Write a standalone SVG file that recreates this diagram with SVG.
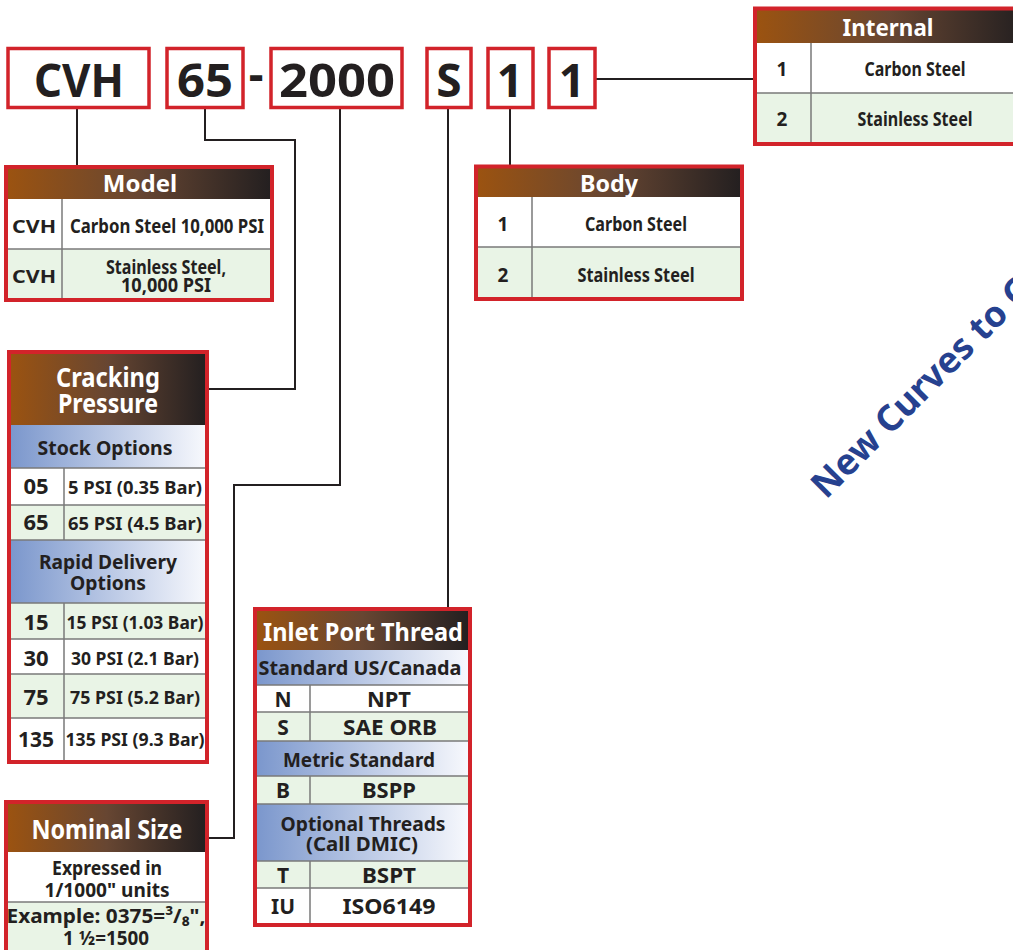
<svg xmlns="http://www.w3.org/2000/svg" width="1013" height="950" viewBox="0 0 1013 950">
<defs>
<linearGradient id="hdr" x1="0" y1="0" x2="1" y2="0">
<stop offset="0" stop-color="#9c5310"/>
<stop offset="0.5" stop-color="#674632"/>
<stop offset="1" stop-color="#231f20"/>
</linearGradient>
<linearGradient id="band" x1="0" y1="0" x2="1" y2="0">
<stop offset="0" stop-color="#7a96cc"/>
<stop offset="1" stop-color="#f8f9fd"/>
</linearGradient>
<style>
.frame{fill:none;stroke:#d2232a;stroke-width:4}
.code{fill:#fff;stroke:#d2232a;stroke-width:3.5}
.grid{stroke:#7a7a7a;stroke-width:1.5;fill:none}
.wh{fill:#fff}
.gr{fill:#e9f4e6}
.t{font-family:"Noto Sans","Open Sans","Liberation Sans",sans-serif;font-weight:700;fill:#231f20;text-anchor:middle}
.h{font-family:"Noto Sans","Open Sans","Liberation Sans",sans-serif;font-weight:700;fill:#fff;text-anchor:middle}
.con{fill:none;stroke:#231f20;stroke-width:2}
</style>
</defs>
<rect width="1013" height="950" fill="#fff"/>

<g id="connectors">
<polyline class="con" points="77,109 77,166"/>
<polyline class="con" points="205,109 205,140 295,140 295,389 209,389"/>
<polyline class="con" points="340,109 340,485 234,485 234,838 209,838"/>
<polyline class="con" points="448,109 448,608"/>
<polyline class="con" points="510,109 510,165"/>
<polyline class="con" points="596,79 754,79"/>
</g>

<g id="code">
<rect class="code" x="8" y="48.5" width="141" height="59"/>
<text class="t" x="79" y="97" font-size="46" textLength="90" lengthAdjust="spacingAndGlyphs">CVH</text>
<rect class="code" x="167" y="48.5" width="76" height="59"/>
<text class="t" x="205" y="97" font-size="46" textLength="56" lengthAdjust="spacingAndGlyphs">65</text>
<text class="t" x="256" y="91" font-size="46">-</text>
<rect class="code" x="271" y="48.5" width="131" height="59"/>
<text class="t" x="337" y="97" font-size="46" textLength="116" lengthAdjust="spacingAndGlyphs">2000</text>
<rect class="code" x="427" y="48.5" width="44" height="59"/>
<text class="t" x="449" y="97" font-size="46">S</text>
<rect class="code" x="488" y="48.5" width="45" height="59"/>
<text class="t" x="510" y="97" font-size="46">1</text>
<rect class="code" x="549" y="48.5" width="46" height="59"/>
<text class="t" x="572" y="97" font-size="46">1</text>
</g>

<g id="model">
<rect x="6" y="167" width="266" height="32" fill="url(#hdr)"/>
<rect class="wh" x="6" y="199" width="266" height="50"/>
<rect class="gr" x="6" y="249" width="266" height="51"/>
<line class="grid" x1="6" y1="249" x2="272" y2="249"/>
<line class="grid" x1="62" y1="199" x2="62" y2="300"/>
<rect class="frame" x="6" y="167" width="266" height="133"/>
<text class="h" x="140" y="192" font-size="24">Model</text>
<text class="t" x="34" y="233" font-size="18" textLength="44" lengthAdjust="spacingAndGlyphs">CVH</text>
<text class="t" x="167" y="233" font-size="19" textLength="194" lengthAdjust="spacingAndGlyphs">Carbon Steel 10,000 PSI</text>
<text class="t" x="34" y="283" font-size="18" textLength="44" lengthAdjust="spacingAndGlyphs">CVH</text>
<text class="t" font-size="19"><tspan x="166" y="274" textLength="120" lengthAdjust="spacingAndGlyphs">Stainless Steel,</tspan><tspan x="166" y="292" textLength="90" lengthAdjust="spacingAndGlyphs">10,000 PSI</tspan></text>
</g>

<g id="cracking">
<rect x="9" y="352" width="198" height="73" fill="url(#hdr)"/>
<rect x="9" y="425" width="198" height="43" fill="url(#band)"/>
<rect class="wh" x="9" y="468" width="198" height="37"/>
<rect class="gr" x="9" y="505" width="198" height="35"/>
<rect x="9" y="540" width="198" height="63" fill="url(#band)"/>
<rect class="gr" x="9" y="603" width="198" height="36"/>
<rect class="wh" x="9" y="639" width="198" height="35"/>
<rect class="gr" x="9" y="674" width="198" height="44"/>
<rect class="wh" x="9" y="718" width="198" height="44"/>
<path class="grid" d="M9,468H207M9,505H207M9,540H207M9,603H207M9,639H207M9,674H207M9,718H207M64,468V540M64,603V762"/>
<rect class="frame" x="9" y="352" width="198" height="410"/>
<text class="h" font-size="26"><tspan x="108" y="387" textLength="104" lengthAdjust="spacingAndGlyphs">Cracking</tspan><tspan x="108" y="413" textLength="100" lengthAdjust="spacingAndGlyphs">Pressure</tspan></text>
<text class="t" x="105" y="455" font-size="20" textLength="135" lengthAdjust="spacingAndGlyphs">Stock Options</text>
<text class="t" x="36" y="494" font-size="22">05</text>
<text class="t" x="135" y="494" font-size="17" textLength="134" lengthAdjust="spacingAndGlyphs">5 PSI (0.35 Bar)</text>
<text class="t" x="36" y="530" font-size="22">65</text>
<text class="t" x="135" y="530" font-size="17" textLength="134" lengthAdjust="spacingAndGlyphs">65 PSI (4.5 Bar)</text>
<text class="t" font-size="20"><tspan x="108" y="569" textLength="138" lengthAdjust="spacingAndGlyphs">Rapid Delivery</tspan><tspan x="108" y="590" textLength="76" lengthAdjust="spacingAndGlyphs">Options</tspan></text>
<text class="t" x="36" y="630" font-size="22">15</text>
<text class="t" x="135" y="629" font-size="17" textLength="137" lengthAdjust="spacingAndGlyphs">15 PSI (1.03 Bar)</text>
<text class="t" x="36" y="666" font-size="22">30</text>
<text class="t" x="135" y="665" font-size="17" textLength="128" lengthAdjust="spacingAndGlyphs">30 PSI (2.1 Bar)</text>
<text class="t" x="36" y="705" font-size="22">75</text>
<text class="t" x="135" y="704" font-size="17" textLength="130" lengthAdjust="spacingAndGlyphs">75 PSI (5.2 Bar)</text>
<text class="t" x="36" y="747" font-size="22" textLength="36" lengthAdjust="spacingAndGlyphs">135</text>
<text class="t" x="135" y="746" font-size="17" textLength="139" lengthAdjust="spacingAndGlyphs">135 PSI (9.3 Bar)</text>
</g>

<g id="nominal">
<rect x="6" y="802" width="201" height="50" fill="url(#hdr)"/>
<rect class="wh" x="6" y="852" width="201" height="50"/>
<rect class="gr" x="6" y="902" width="201" height="60"/>
<line class="grid" x1="6" y1="902" x2="207" y2="902"/>
<rect class="frame" x="6" y="802" width="201" height="160"/>
<text class="h" x="107" y="839" font-size="27" textLength="151" lengthAdjust="spacingAndGlyphs">Nominal Size</text>
<text class="t" font-size="20"><tspan x="107" y="875" textLength="110" lengthAdjust="spacingAndGlyphs">Expressed in</tspan><tspan x="107" y="897" textLength="125" lengthAdjust="spacingAndGlyphs">1/1000" units</tspan></text>
<text class="t" font-size="20"><tspan x="106" y="923" textLength="199" lengthAdjust="spacingAndGlyphs">Example: 0375=³/₈",</tspan><tspan x="106" y="945" textLength="86" lengthAdjust="spacingAndGlyphs">1 ½=1500</tspan></text>
</g>

<g id="inlet">
<rect x="255" y="609" width="215" height="41" fill="url(#hdr)"/>
<rect x="255" y="650" width="215" height="35" fill="url(#band)"/>
<rect class="wh" x="255" y="685" width="215" height="27"/>
<rect class="gr" x="255" y="712" width="215" height="29"/>
<rect x="255" y="741" width="215" height="35" fill="url(#band)"/>
<rect class="gr" x="255" y="776" width="215" height="28"/>
<rect x="255" y="804" width="215" height="57" fill="url(#band)"/>
<rect class="gr" x="255" y="861" width="215" height="27"/>
<rect class="wh" x="255" y="888" width="215" height="37"/>
<path class="grid" d="M255,685H470M255,712H470M255,741H470M255,776H470M255,804H470M255,861H470M255,888H470M310,685V741M310,776V804M310,861V925"/>
<rect class="frame" x="255" y="609" width="215" height="316"/>
<text class="h" x="363" y="641" font-size="25" textLength="200" lengthAdjust="spacingAndGlyphs">Inlet Port Thread</text>
<text class="t" x="360" y="675" font-size="20" textLength="203" lengthAdjust="spacingAndGlyphs">Standard US/Canada</text>
<text class="t" x="283" y="707" font-size="21">N</text>
<text class="t" x="389" y="707" font-size="21" textLength="44" lengthAdjust="spacingAndGlyphs">NPT</text>
<text class="t" x="283" y="735" font-size="21">S</text>
<text class="t" x="390" y="735" font-size="21" textLength="94" lengthAdjust="spacingAndGlyphs">SAE ORB</text>
<text class="t" x="359" y="767" font-size="20" textLength="152" lengthAdjust="spacingAndGlyphs">Metric Standard</text>
<text class="t" x="283" y="798" font-size="21">B</text>
<text class="t" x="389" y="798" font-size="21" textLength="54" lengthAdjust="spacingAndGlyphs">BSPP</text>
<text class="t" font-size="20"><tspan x="363" y="831" textLength="165" lengthAdjust="spacingAndGlyphs">Optional Threads</tspan><tspan x="362" y="851" textLength="112" lengthAdjust="spacingAndGlyphs">(Call DMIC)</tspan></text>
<text class="t" x="283" y="883" font-size="21">T</text>
<text class="t" x="389" y="883" font-size="21" textLength="54" lengthAdjust="spacingAndGlyphs">BSPT</text>
<text class="t" x="283" y="914" font-size="21" textLength="24" lengthAdjust="spacingAndGlyphs">IU</text>
<text class="t" x="389" y="914" font-size="21" textLength="93" lengthAdjust="spacingAndGlyphs">ISO6149</text>
</g>

<g id="internal">
<rect x="755" y="8.5" width="270" height="35" fill="url(#hdr)"/>
<rect class="wh" x="755" y="43" width="270" height="50"/>
<rect class="gr" x="755" y="93" width="270" height="51"/>
<path class="grid" d="M755,93H1025M811,43V144"/>
<rect class="frame" x="755" y="8.5" width="270" height="135.5"/>
<text class="h" x="888" y="36" font-size="24" textLength="91" lengthAdjust="spacingAndGlyphs">Internal</text>
<text class="t" x="782" y="76" font-size="19">1</text>
<text class="t" x="915" y="76" font-size="19" textLength="101" lengthAdjust="spacingAndGlyphs">Carbon Steel</text>
<text class="t" x="782" y="126" font-size="19">2</text>
<text class="t" x="915" y="126" font-size="19" textLength="115" lengthAdjust="spacingAndGlyphs">Stainless Steel</text>
</g>

<g id="body">
<rect x="476" y="166.5" width="266" height="31" fill="url(#hdr)"/>
<rect class="wh" x="476" y="197" width="266" height="50"/>
<rect class="gr" x="476" y="247" width="266" height="52"/>
<path class="grid" d="M476,247H742M532,197V299"/>
<rect class="frame" x="476" y="166.5" width="266" height="132.5"/>
<text class="h" x="609" y="192" font-size="24" textLength="58" lengthAdjust="spacingAndGlyphs">Body</text>
<text class="t" x="503" y="231" font-size="19">1</text>
<text class="t" x="636" y="231" font-size="19" textLength="102" lengthAdjust="spacingAndGlyphs">Carbon Steel</text>
<text class="t" x="503" y="282" font-size="19">2</text>
<text class="t" x="636" y="282" font-size="19" textLength="117" lengthAdjust="spacingAndGlyphs">Stainless Steel</text>
</g>

<g id="banner">
<text transform="translate(826,500) rotate(-45)" font-family="Noto Sans,Open Sans,sans-serif" font-weight="700" font-size="36" fill="#26418f">New Curves to C</text>
</g>
</svg>
